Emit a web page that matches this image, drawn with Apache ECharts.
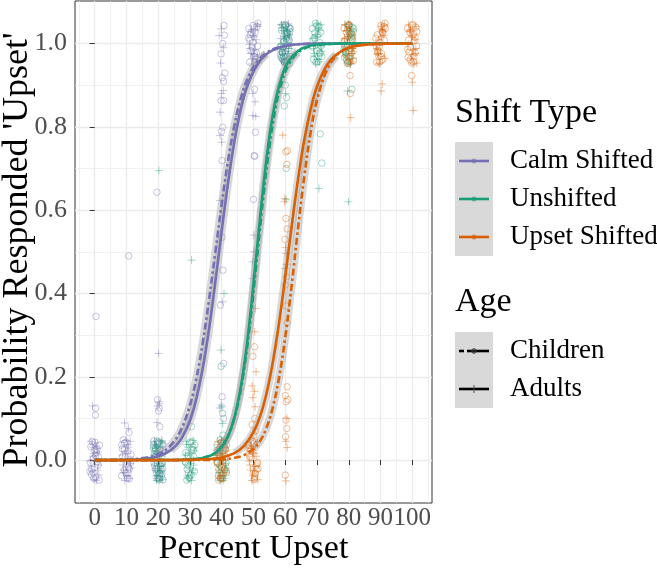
<!DOCTYPE html>
<html><head><meta charset="utf-8">
<script src="https://cdn.jsdelivr.net/npm/echarts@6/dist/echarts.min.js"></script>
<style>html,body{margin:0;padding:0;background:#fff}#c{width:657px;height:568px}</style>
</head><body><div id="c"></div>
<script>
// ---------- tick values ----------
const xTicks = [0,10,20,30,40,50,60,70,80,90,100];
const xMinor = [-5,5,15,25,35,45,55,65,75,85,95,105];
const yTicks = [0,0.2,0.4,0.6,0.8,1.0];
const yMinor = [0.1,0.3,0.5,0.7,0.9];

// ---------- fitted curves ----------
const calmChildCurve = [[0,0],[10,0.0014],[16,0.0057],[20,0.014],[24,0.036],[27,0.07],[30,0.132],[32,0.196],[34,0.281],[36,0.385],[38,0.5],[40,0.615],[42,0.719],[44,0.804],[46,0.868],[48,0.913],[51,0.955],[54,0.977],[58,0.991],[64,0.998],[72,1],[100,1]];
const calmAdultCurve = [[0,0],[10,0.0008],[16,0.0034],[20,0.009],[24,0.024],[27,0.048],[30,0.095],[32,0.147],[34,0.219],[36,0.314],[38,0.428],[40,0.55],[42,0.666],[44,0.765],[46,0.842],[48,0.897],[51,0.947],[54,0.974],[58,0.99],[64,0.998],[72,1],[100,1]];
const unshChildCurve = [[0,0],[20,0.0001],[30,0.0017],[34,0.0055],[38,0.018],[41,0.0435],[43,0.077],[45,0.131],[47,0.216],[49,0.334],[51,0.478],[53,0.625],[55,0.752],[57,0.847],[59,0.91],[61,0.948],[64,0.978],[68,0.993],[74,0.999],[82,1],[100,1]];
const unshAdultCurve = [[0,0],[20,0.0001],[30,0.0015],[34,0.005],[38,0.017],[41,0.043],[43,0.077],[45,0.135],[47,0.224],[49,0.35],[51,0.5],[53,0.65],[55,0.776],[57,0.865],[59,0.923],[61,0.957],[64,0.982],[68,0.995],[74,0.999],[82,1],[100,1]];
const upsetChildCurve = [[0,0],[30,0.0001],[36,0.0006],[40,0.0018],[44,0.0054],[47,0.012],[50,0.027],[52,0.045],[54,0.076],[56,0.124],[58,0.196],[60,0.295],[62,0.418],[64,0.555],[66,0.681],[68,0.787],[70,0.864],[73,0.935],[76,0.97],[80,0.99],[86,0.998],[92,0.9996],[100,1]];
const upsetAdultCurve = [[0,0],[20,0],[30,0.0006],[36,0.0025],[40,0.0064],[44,0.0166],[47,0.034],[50,0.067],[52,0.103],[54,0.157],[56,0.231],[58,0.327],[60,0.44],[62,0.56],[64,0.673],[66,0.769],[68,0.843],[70,0.897],[73,0.947],[76,0.973],[80,0.99],[86,0.9975],[92,0.9994],[100,1]];

const calmChildPts = [
 [-1.2,0.032],[0.5,0.018],[-0.4,0.005],[1.1,-0.012],[-1.5,-0.027],[0.2,-0.041],[-0.8,0.044],[1.4,-0.048],[-0.1,0.024],[0.8,-0.004],[-1.0,-0.035],[0.3,0.011],[0.3,0.125],[0.2,0.108],[0.4,0.345],
 [0.1,0.043],[-0.9,-0.022],[1.2,0.008],[-0.3,-0.044],[0.7,0.026],[-1.3,-0.006],[1.5,0.036],[-0.5,-0.031],
 [10.9,-0.045],[8.7,0.027],[10.1,-0.008],[9.4,0.041],[11.4,0.013],[9.8,-0.031],[10.6,-0.017],[9.0,0.049],[11.1,0.002],[8.5,-0.038],[10.4,0.021],[9.3,-0.024],[10.8,0.066],[10.7,0.49],
 [9.9,0.043],[10.9,-0.022],[8.8,0.008],[10.3,-0.044],[9.3,0.026],[11.3,-0.006],[8.5,0.036],[10.5,-0.031],
 [19.7,0.015],[21.2,-0.033],[18.6,0.046],[20.6,-0.009],[19.1,0.029],[21.5,-0.047],[20.0,0.006],[19.5,-0.021],[20.9,0.039],[18.9,-0.014],[20.3,0.022],[21.0,-0.039],[20.3,0.125],[20.1,0.118],[19.8,0.145],[20.5,0.08],[19.6,0.643],
 [20.1,0.043],[19.1,-0.022],[21.2,0.008],[19.7,-0.044],[20.7,0.026],[18.7,-0.006],[21.5,0.036],[19.5,-0.031],
 [40.7,1.043],[41.0,0.929],[40.2,0.918],[40.6,0.909],[39.8,0.863],[40.6,0.863],[40.3,0.799],[39.9,0.789],[40.1,0.719],[40.1,0.535],[40.4,0.456],[39.6,0.372],[40.6,0.232],[40.1,0.152],[40.6,0.10],[40.3,1.0],[39.8,0.975],[40.8,1.02],
 [48.8,0.955],[50.5,1.027],[49.6,0.992],[51.1,1.041],[48.5,1.013],[50.2,0.969],[49.2,0.983],[51.4,1.049],[49.9,1.002],[50.8,0.962],[49.0,1.021],[50.3,0.976],[50.3,0.89],[50.6,0.787],[50.2,0.731],[50.4,0.729],[50.0,0.626],
 [49.9,1.043],[50.9,0.978],[48.8,1.008],[50.3,0.956],[49.3,1.026],[51.3,0.994],[48.5,1.036],[50.5,0.969],
 [60.9,1.015],[58.7,0.967],[60.1,1.046],[59.4,0.991],[61.4,1.029],[59.8,0.953],[60.6,1.006],[59.0,0.979],[61.1,1.039],[58.5,0.986],[60.4,1.022],[59.3,0.961],
 [60.1,1.043],[59.1,0.978],[61.2,1.008],[59.7,0.956],[60.7,1.026],[58.7,0.994],[61.5,1.036],[59.5,0.969]
];
const calmAdultPts = [
 [0.7,0.028],[-1.1,-0.015],[0.2,0.041],[1.3,-0.036],[-0.5,0.009],[-1.4,-0.002],[1.0,0.019],[-0.2,-0.047],[0.4,0.034],[-0.8,-0.026],[-0.7,0.13],
 [1.1,-0.012],[-0.6,0.031],[0.5,-0.049],[-1.2,0.045],[-0.2,0.016],[0.9,-0.024],
 [9.1,-0.03],[10.4,0.037],[11.2,-0.008],[9.7,0.022],[10.8,-0.044],[8.7,0.012],[9.9,0.047],[11.4,-0.019],[9.4,0.0],[10.2,-0.038],[9.4,0.089],[10.6,0.076],
 [8.9,-0.012],[10.6,0.031],[9.5,-0.049],[11.2,0.045],[10.2,0.016],[9.1,-0.024],
 [20.7,-0.03],[18.9,0.037],[20.2,-0.008],[21.3,0.022],[19.5,-0.044],[18.6,0.012],[21.0,0.047],[19.8,-0.019],[20.4,0.0],[19.2,-0.038],[20.1,0.256],[20.2,0.14],[19.8,0.13],[20.4,0.135],[19.6,0.09],
 [21.1,-0.012],[19.4,0.031],[20.5,-0.049],[18.8,0.045],[19.8,0.016],[20.9,-0.024],
 [39.2,1.019],[39.6,0.953],[40.5,0.887],[39.9,0.88],[39.5,0.835],[39.5,0.779],[40.0,0.763],[39.5,0.623],[40.3,0.38],[39.8,0.132],[39.4,0.125],[40.5,0.99],[39.9,1.035],
 [49.1,1.028],[50.4,0.985],[51.2,1.041],[49.7,0.964],[50.8,1.009],[48.7,0.998],[49.9,1.019],[51.4,0.953],[49.4,1.034],[50.2,0.974],[49.8,0.88],[50.5,0.86],[49.8,0.827],[50.7,0.825],[50.1,0.54],[50.2,0.50],[49.7,0.476],[49.8,0.436],
 [48.9,0.988],[50.6,1.031],[49.5,0.951],[51.2,1.045],[50.2,1.016],[49.1,0.976],
 [60.7,0.97],[58.9,1.037],[60.2,0.992],[61.3,1.022],[59.5,0.956],[58.6,1.012],[61.0,1.047],[59.8,0.981],[60.4,1.0],[59.2,0.962],
 [61.1,0.988],[59.4,1.031],[60.5,0.951],[58.8,1.045],[59.8,1.016],[60.9,0.976]
];
const unshChildPts = [
 [18.8,0.015],[20.5,-0.033],[19.6,0.046],[21.1,-0.009],[18.5,0.029],[20.2,-0.047],[19.2,0.006],[21.4,-0.021],[19.9,0.039],[20.8,-0.014],[19.0,0.022],[20.3,-0.039],
 [19.9,0.043],[20.9,-0.022],[18.8,0.008],[20.3,-0.044],[19.3,0.026],[21.3,-0.006],[18.5,0.036],[20.5,-0.031],
 [30.9,0.032],[28.7,0.018],[30.1,0.005],[29.4,-0.012],[31.4,-0.027],[29.8,-0.041],[30.6,0.044],[29.0,-0.048],[31.1,0.024],[28.5,-0.004],[30.4,-0.035],[29.3,0.011],[30.5,0.08],
 [30.1,0.043],[29.1,-0.022],[31.2,0.008],[29.7,-0.044],[30.7,0.026],[28.7,-0.006],[31.5,0.036],[29.5,-0.031],
 [39.7,-0.045],[41.2,0.027],[38.6,-0.008],[40.6,0.041],[39.1,0.013],[41.5,-0.031],[40.0,-0.017],[39.5,0.049],[40.9,0.002],[38.9,-0.038],[40.3,0.021],[41.0,-0.024],[40.3,0.112],[39.8,0.225],[40.4,0.06],
 [39.9,0.043],[40.9,-0.022],[38.8,0.008],[40.3,-0.044],[39.3,0.026],[41.3,-0.006],[38.5,0.036],[40.5,-0.031],
 [58.8,1.032],[60.5,1.018],[59.6,1.005],[61.1,0.988],[58.5,0.973],[60.2,0.959],[59.2,1.044],[61.4,0.952],[59.9,1.024],[60.8,0.996],[59.0,0.965],[60.3,1.011],[60.0,0.90],[60.4,0.87],[59.7,0.85],[60.3,0.70],
 [60.1,1.043],[59.1,0.978],[61.2,1.008],[59.7,0.956],[60.7,1.026],[58.7,0.994],[61.5,1.036],[59.5,0.969],
 [69.7,0.955],[71.2,1.027],[68.6,0.992],[70.6,1.041],[69.1,1.013],[71.5,0.969],[70.0,0.983],[69.5,1.049],[70.9,1.002],[68.9,0.962],[70.3,1.021],[71.0,0.976],[71.0,0.783],[71.5,0.713],
 [69.9,1.043],[70.9,0.978],[68.8,1.008],[70.3,0.956],[69.3,1.026],[71.3,0.994],[68.5,1.036],[70.5,0.969],
 [80.9,1.015],[78.7,0.967],[80.1,1.046],[79.4,0.991],[81.4,1.029],[79.8,0.953],[80.6,1.006],[79.0,0.979],[81.1,1.039],[78.5,0.986],[80.4,1.022],[79.3,0.961],[81.0,0.89],
 [80.1,1.043],[79.1,0.978],[81.2,1.008],[79.7,0.956],[80.7,1.026],[78.7,0.994],[81.5,1.036],[79.5,0.969]
];
const unshAdultPts = [
 [19.1,0.028],[20.4,-0.015],[21.2,0.041],[19.7,-0.036],[20.8,0.009],[18.7,-0.002],[19.9,0.019],[21.4,-0.047],[19.4,0.034],[20.2,-0.026],[20.2,0.695],
 [18.9,-0.012],[20.6,0.031],[19.5,-0.049],[21.2,0.045],[20.2,0.016],[19.1,-0.024],
 [30.7,-0.03],[28.9,0.037],[30.2,-0.008],[31.3,0.022],[29.5,-0.044],[28.6,0.012],[31.0,0.047],[29.8,-0.019],[30.4,0.0],[29.2,-0.038],[30.5,0.48],
 [31.1,-0.012],[29.4,0.031],[30.5,-0.049],[28.8,0.045],[29.8,0.016],[30.9,-0.024],
 [39.1,-0.03],[40.4,0.037],[41.2,-0.008],[39.7,0.022],[40.8,-0.044],[38.7,0.012],[39.9,0.047],[41.4,-0.019],[39.4,0.0],[40.2,-0.038],[40.1,0.128],[40.3,0.088],[39.8,0.264],[40.7,0.40],
 [38.9,-0.012],[40.6,0.031],[39.5,-0.049],[41.2,0.045],[40.2,0.016],[39.1,-0.024],
 [60.7,1.028],[58.9,0.985],[60.2,1.041],[61.3,0.964],[59.5,1.009],[58.6,0.998],[61.0,1.019],[59.8,0.953],[60.4,1.034],[59.2,0.974],[60.1,0.88],[60.3,0.625],
 [61.1,0.988],[59.4,1.031],[60.5,0.951],[58.8,1.045],[59.8,1.016],[60.9,0.976],
 [69.1,0.97],[70.4,1.037],[71.2,0.992],[69.7,1.022],[70.8,0.956],[68.7,1.012],[69.9,1.047],[71.4,0.981],[69.4,1.0],[70.2,0.962],[70.6,0.652],
 [68.9,0.988],[70.6,1.031],[69.5,0.951],[71.2,1.045],[70.2,1.016],[69.1,0.976],
 [80.7,1.028],[78.9,0.985],[80.2,1.041],[81.3,0.964],[79.5,1.009],[78.6,0.998],[81.0,1.019],[79.8,0.953],[80.4,1.034],[79.2,0.974],[79.6,0.886],[79.9,0.62],
 [81.1,0.988],[79.4,1.031],[80.5,0.951],[78.8,1.045],[79.8,1.016],[80.9,0.976]
];
const upsetChildPts = [
 [40.9,0.032],[38.7,0.018],[40.1,0.005],[39.4,-0.012],[41.4,-0.027],[39.8,-0.041],[40.6,0.044],[39.0,-0.048],[41.1,0.024],[38.5,-0.004],[40.4,-0.035],[39.3,0.011],
 [40.1,0.043],[39.1,-0.022],[41.2,0.008],[39.7,-0.044],[40.7,0.026],[38.7,-0.006],[41.5,0.036],[39.5,-0.031],
 [48.8,0.015],[50.5,-0.033],[49.6,0.046],[51.1,-0.009],[48.5,0.029],[50.2,-0.047],[49.2,0.006],[51.4,-0.021],[49.9,0.039],[50.8,-0.014],[49.0,0.022],[50.3,-0.039],[50.3,0.272],[49.8,0.249],[50.4,0.10],[49.6,0.085],[50.7,0.07],[50.1,0.06],
 [49.9,0.043],[50.9,-0.022],[48.8,0.008],[50.3,-0.044],[49.3,0.026],[51.3,-0.006],[48.5,0.036],[50.5,-0.031],
 [60.7,0.743],[60.2,0.74],[60.5,0.71],[60.2,0.58],[60.6,0.555],[59.9,0.53],[60.4,0.44],[60.0,0.42],[60.3,0.37],[60.6,0.33],[60.6,0.176],[60.0,0.155],[60.8,0.145],[60.3,0.14],[60.2,0.096],[60.5,0.076],[60.1,0.056],[60.0,-0.036],
 [79.7,1.032],[81.2,1.018],[78.6,1.005],[80.6,0.988],[79.1,0.973],[81.5,0.959],[80.0,1.044],[79.5,0.952],[80.9,1.024],[78.9,0.996],[80.3,0.965],[81.0,1.011],[80.4,0.923],[80.5,0.88],
 [79.9,1.043],[80.9,0.978],[78.8,1.008],[80.3,0.956],[79.3,1.026],[81.3,0.994],[78.5,1.036],[80.5,0.969],
 [88.8,0.955],[90.5,1.027],[89.6,0.992],[91.1,1.041],[88.5,1.013],[90.2,0.969],[89.2,0.983],[91.4,1.049],[89.9,1.002],[90.8,0.962],[89.0,1.021],[90.3,0.976],
 [90.1,1.043],[89.1,0.978],[91.2,1.008],[89.7,0.956],[90.7,1.026],[88.7,0.994],[91.5,1.036],[89.5,0.969],
 [100.9,1.015],[98.7,0.967],[100.1,1.046],[99.4,0.991],[101.4,1.029],[99.8,0.953],[100.6,1.006],[99.0,0.979],[101.1,1.039],[98.5,0.986],[100.4,1.022],[99.3,0.961],[99.8,0.923],
 [99.9,1.043],[100.9,0.978],[98.8,1.008],[100.3,0.956],[99.3,1.026],[101.3,0.994],[98.5,1.036],[100.5,0.969]
];
const upsetAdultPts = [
 [40.7,-0.03],[38.9,0.037],[40.2,-0.008],[41.3,0.022],[39.5,-0.044],[38.6,0.012],[41.0,0.047],[39.8,-0.019],[40.4,0.0],[39.2,-0.038],
 [41.1,-0.012],[39.4,0.031],[40.5,-0.049],[38.8,0.045],[39.8,0.016],[40.9,-0.024],
 [49.1,0.028],[50.4,-0.015],[51.2,0.041],[49.7,-0.036],[50.8,0.009],[48.7,-0.002],[49.9,0.019],[51.4,-0.047],[49.4,0.034],[50.2,-0.026],[50.6,0.364],[50.4,0.308],[50.8,0.212],[49.6,0.178],[50.3,0.165],[49.8,0.15],[50.5,0.128],
 [48.9,-0.012],[50.6,0.031],[49.5,-0.049],[51.2,0.045],[50.2,0.016],[49.1,-0.024],
 [59.2,0.78],[59.9,0.628],[59.8,0.62],[60.1,0.51],[60.3,0.496],[59.9,0.46],[60.4,0.47],[60.5,0.10],[60.2,0.045],[60.6,0.03],[60.2,-0.05],
 [79.1,0.97],[80.4,1.037],[81.2,0.992],[79.7,1.022],[80.8,0.956],[78.7,1.012],[79.9,1.047],[81.4,0.981],[79.4,1.0],[80.2,0.962],[80.6,0.822],
 [81.1,0.988],[79.4,1.031],[80.5,0.951],[78.8,1.045],[79.8,1.016],[80.9,0.976],
 [90.7,1.028],[88.9,0.985],[90.2,1.041],[91.3,0.964],[89.5,1.009],[88.6,0.998],[91.0,1.019],[89.8,0.953],[90.4,1.034],[89.2,0.974],[90.5,0.903],[90.2,0.886],
 [88.9,0.988],[90.6,1.031],[89.5,0.951],[91.2,1.045],[90.2,1.016],[89.1,0.976],
 [99.1,1.028],[100.4,0.985],[101.2,1.041],[99.7,0.964],[100.8,1.009],[98.7,0.998],[99.9,1.019],[101.4,0.953],[99.4,1.034],[100.2,0.974],[100.0,0.907],[100.3,0.839],
 [101.1,0.988],[99.4,1.031],[100.5,0.951],[98.8,1.045],[99.8,1.016],[100.9,0.976]
];

const shiftNames = ['Calm Shifted','Unshifted','Upset Shifted'];
const ageNames = ['Children','Adults'];
const colors = ['#7570B3','#1B9E77','#D95F02'];
const ptColors = ['rgba(117,112,179,0.5)','rgba(27,158,119,0.5)','rgba(217,95,2,0.5)'];

const FONT = '"Liberation Serif","Times New Roman",serif';
const PLUS = 'path://M5,0L5,10M0,5L10,5';

const chart = echarts.init(document.getElementById('c'), null, {renderer:'canvas'});

const ptSets = [[calmChildPts,calmAdultPts],[unshChildPts,unshAdultPts],[upsetChildPts,upsetAdultPts]];
const curveSets = [[calmChildCurve,calmAdultCurve],[unshChildCurve,unshAdultCurve],[upsetChildCurve,upsetAdultCurve]];

const series = [];
ptSets.forEach((pair,i)=>{
  series.push({type:'scatter', data:pair[0], symbol:'circle', symbolSize:6.5, silent:true,
    itemStyle:{color:'rgba(0,0,0,0)', borderColor:ptColors[i], borderWidth:1}});
  series.push({type:'scatter', data:pair[1], symbol:PLUS, symbolSize:8, silent:true,
    itemStyle:{color:'rgba(0,0,0,0)', borderColor:ptColors[i], borderWidth:1}});
});
curveSets.forEach((pair)=>{
  pair.forEach(c=>{
    series.push({type:'line', data:c.filter(p=>p[1]>0.012 && p[1]<0.988), smooth:0.4,
      showSymbol:false, silent:true, lineStyle:{color:'rgba(153,153,153,0.38)', width:8, cap:'butt'}});
  });
});
curveSets.forEach((pair,i)=>{
  series.push({type:'line', data:pair[0], smooth:0.4, showSymbol:false, silent:true,
    lineStyle:{color:colors[i], width:2.6, type:[7,3,2.5,3]}});
  series.push({type:'line', data:pair[1], smooth:0.4, showSymbol:false, silent:true,
    lineStyle:{color:colors[i], width:2.6, type:'solid'}});
});

const legendG = [];
legendG.push({type:'text', x:455, y:113, style:{text:'Shift Type', font:'34px '+FONT, fill:'#000', verticalAlign:'middle'}});
legendG.push({type:'rect', shape:{x:455,y:142,width:38,height:114}, style:{fill:'#D9D9D9'}});
shiftNames.forEach((n,i)=>{
  const y = 161 + 38*i;
  legendG.push({type:'line', shape:{x1:459,y1:y,x2:489,y2:y}, style:{stroke:colors[i], lineWidth:2.6}});
  legendG.push({type:'circle', shape:{cx:474,cy:y,r:2.3}, style:{fill:ptColors[i], stroke:ptColors[i], lineWidth:0.8}});
  legendG.push({type:'text', x:510, y:y, style:{text:n, font:'27px '+FONT, fill:'#000', verticalAlign:'middle'}});
});
legendG.push({type:'text', x:455, y:302, style:{text:'Age', font:'34px '+FONT, fill:'#000', verticalAlign:'middle'}});
legendG.push({type:'rect', shape:{x:455,y:332,width:38,height:76}, style:{fill:'#D9D9D9'}});
legendG.push({type:'line', shape:{x1:459,y1:351,x2:464,y2:351}, style:{stroke:'#000', lineWidth:2.6}});
legendG.push({type:'line', shape:{x1:467,y1:351,x2:489,y2:351}, style:{stroke:'#000', lineWidth:2.6}});
legendG.push({type:'circle', shape:{cx:474,cy:351,r:2.3}, style:{fill:'rgba(60,60,60,0.6)', stroke:'#333', lineWidth:0.8}});
legendG.push({type:'line', shape:{x1:459,y1:389,x2:489,y2:389}, style:{stroke:'#000', lineWidth:2.6}});
legendG.push({type:'line', shape:{x1:474,y1:385,x2:474,y2:393}, style:{stroke:'#555', lineWidth:1}});
ageNames.forEach((n,i)=>{
  legendG.push({type:'text', x:510, y:351+38*i, style:{text:n, font:'27px '+FONT, fill:'#000', verticalAlign:'middle'}});
});
// axis titles
legendG.push({type:'text', x:253.5, y:549, style:{text:'Percent Upset', font:'34px '+FONT, fill:'#000', align:'center', verticalAlign:'middle'}});
legendG.push({type:'text', x:18, y:250, rotation:Math.PI/2, style:{text:"Probability Responded 'Upset'", font:'36px '+FONT, fill:'#000', align:'center', verticalAlign:'middle'}});

const X0=-6.2, X1=106.2, Y0=-0.103, Y1=1.102;
const option = {
  animation:false,
  backgroundColor:'#fff',
  grid:{left:75, top:1, width:357, height:502, show:true, borderColor:'#333', borderWidth:1, backgroundColor:'#fff'},
  xAxis:[
    {type:'value', min:X0, max:X1, axisLine:{show:false},
     axisTick:{show:true, length:5, customValues:xTicks, lineStyle:{color:'#333', width:1}},
     axisLabel:{customValues:xTicks, color:'#4D4D4D', fontSize:25, fontFamily:FONT, margin:3},
     splitLine:{show:true, lineStyle:{color:'#EBEBEB', width:1.3}}},
    {type:'value', min:X0, max:X1, position:'bottom', axisLine:{show:false},
     axisTick:{show:false, customValues:xMinor}, axisLabel:{show:false},
     splitLine:{show:true, lineStyle:{color:'#EBEBEB', width:0.7}}}
  ],
  yAxis:[
    {type:'value', min:Y0, max:Y1, axisLine:{show:false},
     axisTick:{show:true, length:5, customValues:yTicks, lineStyle:{color:'#333', width:1}},
     axisLabel:{customValues:yTicks, color:'#4D4D4D', fontSize:26, fontFamily:FONT, margin:8, formatter:v=>v.toFixed(1)},
     splitLine:{show:true, lineStyle:{color:'#EBEBEB', width:1.3}}},
    {type:'value', min:Y0, max:Y1, position:'left', axisLine:{show:false},
     axisTick:{show:false, customValues:yMinor}, axisLabel:{show:false},
     splitLine:{show:true, lineStyle:{color:'#EBEBEB', width:0.7}}}
  ],
  series: series,
  graphic: legendG
};
chart.setOption(option);
</script></body></html>
